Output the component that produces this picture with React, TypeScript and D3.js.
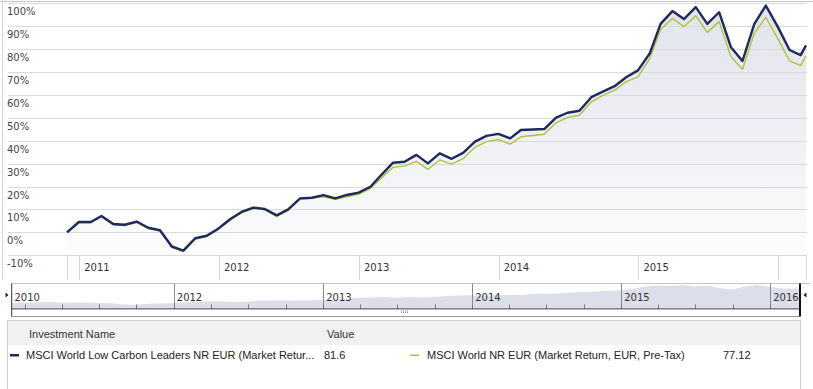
import React from 'react';
import * as d3 from 'd3';

// month-end observations from Nov 2010 to Feb 2016, plus the partial month of March 2016
const monthEnds = d3.timeMonth
  .range(new Date(2010, 11, 1), new Date(2016, 3, 1))
  .map(d => d3.timeDay.offset(d, -1));
const dates: Date[] = [...monthEnds, new Date(2016, 2, 14)];

// cumulative return, %
const lowCarbon = [
  0, 4.5, 4.5, 7.1, 3.6, 3.3, 4.7, 2.0, 0.9, -6.2, -8.0, -2.6, -1.5, 1.7, 5.8, 8.9,
  10.8, 10.2, 7.4, 10.0, 14.8, 15.1, 16.2, 14.8, 16.3, 17.3, 19.9, 25.0, 30.4, 30.8,
  33.8, 30.1, 34.5, 32.1, 34.7, 39.6, 42.1, 43.0, 41.0, 44.7, 44.9, 45.1, 50.1, 52.2,
  53.1, 59.0, 61.4, 63.8, 67.7, 70.7, 78.2, 91.0, 96.6, 93.1, 98.3, 91.0, 96.1, 80.8,
  74.8, 91.0, 99.0, 89.8, 79.6, 77.4, 81.6,
];
const msciWorld = [
  0, 4.1, 4.1, 6.7, 3.2, 2.9, 4.3, 1.6, 0.5, -6.6, -8.4, -3.0, -1.9, 1.3, 5.4, 8.5,
  10.4, 9.8, 7.0, 9.6, 14.5, 14.9, 15.5, 14.4, 15.5, 16.6, 19.2, 23.6, 28.4, 29.0,
  31.0, 27.5, 31.6, 29.8, 32.2, 37.1, 39.6, 40.5, 38.5, 41.7, 42.3, 42.8, 47.8, 50.2,
  51.1, 57.0, 59.8, 62.1, 65.8, 67.9, 76.0, 88.6, 93.4, 89.8, 94.6, 87.3, 92.0, 76.7,
  71.2, 86.9, 93.9, 84.7, 74.9, 72.8, 77.1,
];

const yTicks = [100, 90, 80, 70, 60, 50, 40, 30, 20, 10, 0, -10];
const axisYears = [2011, 2012, 2013, 2014, 2015, 2016];
const labelledYears = [2011, 2012, 2013, 2014, 2015];
const navYears = [2012, 2013, 2014, 2015, 2016];

const seriesNames = [
  'MSCI World Low Carbon Leaders NR EUR (Market Retur...',
  'MSCI World NR EUR (Market Return, EUR, Pre-Tax)',
];
const lastValues = ['81.6', '77.12'];

const NAVY = '#1d2a5f';
const GREEN = '#b2c13a';
const FONT = '"DejaVu Sans", Verdana, sans-serif';
const LFONT = '"Liberation Sans", Arial, sans-serif';

export default function App() {
  const W = 813;
  const H = 389;
  const domain = [dates[0], dates[dates.length - 1]] as [Date, Date];

  const x = d3.scaleTime().domain(domain).range([67, 806]);
  const y = d3.scaleLinear().domain([-10, 100]).range([255.2, 3.3]);

  const nx = d3.scaleTime().domain(domain).range([11.7, 800]);
  const ny = d3.scaleLinear().domain([-29, 100]).range([308.7, 284.8]);

  const idx = d3.range(dates.length);
  const area = d3.area<number>().x(i => x(dates[i])).y0(255.2).y1(i => y(lowCarbon[i]));
  const line = (vals: number[]) => d3.line<number>().x(i => x(dates[i])).y(i => y(vals[i]))(idx) || '';
  const navArea = d3.area<number>().x(i => nx(dates[i])).y0(308.7).y1(i => ny(lowCarbon[i]));

  const quarters = d3.timeMonth.every(3)!.range(new Date(2011, 0, 1), domain[1]);

  return (
    <svg width={W} height={H} style={{ position: 'absolute', left: 0, top: 0, background: '#fff' }}>
      <defs>
        <linearGradient id="fillGrad" gradientUnits="userSpaceOnUse" x1="0" y1="0" x2="0" y2="255">
          <stop offset="0" stopColor="#e1e3eb" />
          <stop offset="1" stopColor="#fcfcfd" />
        </linearGradient>
      </defs>

      {/* frame */}
      <line x1={0} x2={W} y1={1.5} y2={1.5} stroke="#c4c4c4" />
      <line x1={2.5} x2={2.5} y1={0} y2={280} stroke="#d4d4d4" />

      <path d={area(idx) || ''} fill="url(#fillGrad)" />

      {/* grid */}
      {yTicks.map(v => (
        <line key={v} x1={8} x2={807} y1={Math.round(y(v)) + 0.5} y2={Math.round(y(v)) + 0.5} stroke="#dadada" />
      ))}
      {yTicks.map(v => (
        <text key={'t' + v} x={7} y={y(v) + 12} fontFamily={FONT} fontSize={10} fill="#444">
          {v}%
        </text>
      ))}

      {/* x axis band */}
      {[dates[0], ...axisYears.map(yr => new Date(yr, 0, 1)), domain[1]].map((d, i) => (
        <line key={i} x1={Math.round(x(d)) + 0.5} x2={Math.round(x(d)) + 0.5} y1={255} y2={280} stroke="#d4d4d4" />
      ))}
      {labelledYears.map(yr => (
        <text key={yr} x={x(new Date(yr, 0, 1)) + 5} y={270.5} fontFamily={FONT} fontSize={10} fill="#333">
          {yr}
        </text>
      ))}

      <path d={line(msciWorld)} fill="none" stroke={GREEN} strokeWidth={1.4} strokeLinejoin="round" />
      <path d={line(lowCarbon)} fill="none" stroke={NAVY} strokeWidth={2.4} strokeLinejoin="round" />

      {/* navigator */}
      <path d={navArea(idx) || ''} fill="#dcdfe9" />
      <line x1={11.7} x2={810} y1={283.5} y2={283.5} stroke="#c4c4c4" />
      {navYears.map(yr => (
        <line key={yr} x1={Math.round(nx(new Date(yr, 0, 1))) + 0.5} x2={Math.round(nx(new Date(yr, 0, 1))) + 0.5}
          y1={283.5} y2={309} stroke="#8a8a8a" />
      ))}
      {quarters.map((d, i) => (
        <line key={i} x1={Math.round(nx(d)) + 0.5} x2={Math.round(nx(d)) + 0.5} y1={304.5} y2={309} stroke="#777" />
      ))}
      {['2010', ...navYears.map(String)].map((t, i) => (
        <text key={t} x={i === 0 ? 14.5 : nx(new Date(+t, 0, 1)) + 3} y={300.5} fontFamily={FONT} fontSize={10} fill="#333">
          {t}
        </text>
      ))}
      <line x1={11.7} x2={800} y1={308.9} y2={308.9} stroke="#444" />
      <line x1={11.7} x2={800} y1={316.5} y2={316.5} stroke="#9a9a9a" />
      <line x1={11.7} x2={11.7} y1={283.5} y2={316.5} stroke="#333" />
      <line x1={800} x2={800} y1={283.5} y2={316.5} stroke="#111" strokeWidth={2} />
      {d3.range(4).map(c => d3.range(2).map(r => (
        <rect key={c + '-' + r} x={401 + c * 2} y={310.5 + r * 1.5} width={1} height={1} fill="#888" />
      )))}
      <path d="M5.5,292.5 L8.5,295 L5.5,297.5 Z" fill="#222" />
      <path d="M806.5,292.5 L803.5,295 L806.5,297.5 Z" fill="#222" />

      {/* legend table */}
      <rect x={7.5} y={320.5} width={793} height={80} fill="#fff" stroke="#cfcfcf" />
      <rect x={8} y={321} width={792} height={24} fill="#f1f1f1" />
      <text x={29} y={338} fontFamily={LFONT} fontSize={11} fill="#333">Investment Name</text>
      <text x={327} y={338} fontFamily={LFONT} fontSize={11} fill="#333">Value</text>

      <rect x={10} y={354} width={9} height={2.5} fill={NAVY} />
      <text x={26} y={359} fontFamily={LFONT} fontSize={11} fill="#222">{seriesNames[0]}</text>
      <text x={324} y={359} fontFamily={LFONT} fontSize={11} fill="#222">{lastValues[0]}</text>

      <rect x={410} y={354.5} width={9} height={1.5} fill={GREEN} />
      <text x={427} y={359} fontFamily={LFONT} fontSize={11} fill="#222">{seriesNames[1]}</text>
      <text x={723} y={359} fontFamily={LFONT} fontSize={11} fill="#222">{lastValues[1]}</text>
    </svg>
  );
}
